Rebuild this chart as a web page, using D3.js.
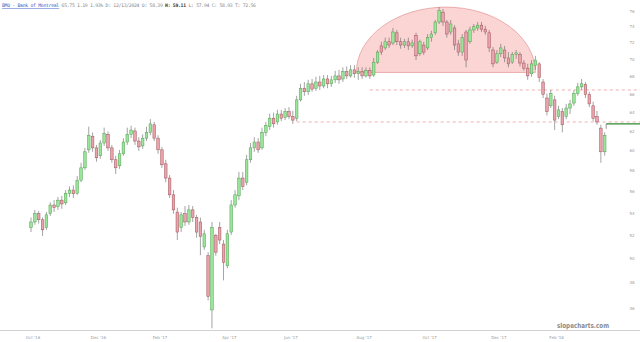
<!DOCTYPE html>
<html>
<head>
<meta charset="utf-8">
<script src="https://cdn.jsdelivr.net/npm/d3@7"></script>
<style>
  body { margin: 0; background: #fff; }
  svg { display: block; }
</style>
</head>
<body>
<div id="chart"></div>
<script>
// DATA
const opens = [
  52.7, 53.2, 53.95, 53.4, 52.7, 53.95, 54.75, 54.6, 55.2, 54.95,
  55.85, 56.15, 55.85, 57.1, 58.3, 60.1, 61.5, 60.3, 59.5, 60.8,
  61.7, 60.3, 59.1, 58.5, 59.7, 60.9, 61.7, 62.05, 61.0, 60.5,
  61.3, 61.9, 62.7, 61.3, 60.1, 58.7, 57.3, 55.7, 54.1, 52.7,
  53.95, 53.2, 54.3, 53.6, 53.2, 51.0, 50.25, 45.85, 52.0, 52.7,
  51.25, 49.4, 52.3, 54.75, 55.6, 57.3, 56.9, 59.1, 60.3, 60.9,
  60.3, 61.9, 62.5, 63.4, 63.0, 63.85, 63.5, 64.1, 63.6, 63.4,
  65.4, 66.7, 66.3, 67.2, 66.7, 67.4, 66.95, 67.75, 67.2, 67.65,
  68.1, 67.75, 68.6, 68.1, 68.8, 68.35, 68.6, 68.1, 68.7, 68.2,
  69.7, 71.65, 71.4, 72.15, 72.0, 73.25, 72.15, 71.75, 72.15, 71.65,
  72.9, 70.7, 71.75, 71.4, 72.65, 73.25, 74.6, 75.85, 74.6, 73.35,
  73.85, 71.9, 70.9, 73.35, 72.15, 73.6, 73.85, 74.2, 73.7, 73.25,
  71.15, 69.7, 70.7, 71.15, 70.2, 69.7, 70.6, 70.6, 69.6, 69.0,
  68.35, 69.3, 69.5, 67.4, 65.6, 64.75, 65.4, 63.6, 64.1, 63.6,
  64.5, 65.05, 66.1, 66.85, 67.1, 66.0, 64.75, 63.6, 62.35, 59.9
];
const closes = [
  53.2, 53.95, 53.4, 52.5, 53.85, 54.75, 54.5, 55.2, 54.85, 55.85,
  56.15, 55.8, 57.1, 58.3, 59.9, 61.6, 60.3, 59.3, 60.8, 61.8,
  60.3, 59.1, 58.3, 59.7, 60.9, 61.7, 62.15, 61.0, 60.4, 61.3,
  61.9, 62.8, 61.3, 60.1, 58.6, 57.3, 55.7, 54.3, 52.3, 53.85,
  53.2, 54.3, 53.6, 52.3, 51.9, 52.15, 46.9, 52.7, 50.55, 51.6,
  49.7, 52.15, 54.75, 55.7, 57.3, 56.5, 59.1, 60.3, 60.9, 60.1,
  61.9, 62.6, 63.4, 62.8, 63.85, 63.4, 64.1, 63.6, 63.2, 65.4,
  66.7, 66.3, 67.2, 66.6, 67.4, 66.95, 67.75, 67.2, 67.65, 68.1,
  67.65, 68.6, 68.1, 68.8, 68.35, 68.6, 68.1, 68.7, 68.1, 69.7,
  70.9, 70.9, 72.15, 71.75, 73.35, 72.15, 71.75, 72.15, 71.65, 72.0,
  70.45, 72.15, 70.9, 72.65, 73.1, 74.6, 76.1, 74.6, 73.1, 74.35,
  71.75, 70.9, 72.65, 69.95, 73.6, 74.0, 74.2, 73.7, 73.35, 71.4,
  69.5, 70.7, 71.4, 70.2, 69.5, 70.6, 70.8, 69.6, 69.0, 68.1,
  69.5, 69.95, 67.9, 66.0, 64.1, 66.1, 63.2, 64.3, 62.7, 64.5,
  64.95, 66.1, 66.85, 67.2, 66.0, 64.95, 63.4, 63.0, 59.9, 61.6
];
const highs = [
  53.6, 54.3, 54.2, 53.6, 54.1, 55.0, 55.2, 55.5, 55.6, 56.15,
  56.5, 56.6, 57.5, 58.8, 60.3, 62.5, 61.9, 60.6, 61.1, 62.4,
  62.0, 60.6, 59.5, 60.1, 61.3, 62.4, 62.6, 62.4, 61.4, 61.7,
  62.5, 63.3, 63.0, 61.6, 60.4, 59.1, 57.6, 56.15, 54.5, 54.1,
  54.65, 54.75, 54.65, 53.85, 53.6, 52.5, 50.55, 53.2, 52.15, 53.2,
  51.6, 52.5, 55.2, 56.15, 57.9, 57.9, 59.6, 60.8, 61.4, 61.3,
  62.4, 63.0, 63.9, 64.0, 64.3, 64.3, 64.5, 64.6, 64.2, 65.85,
  67.2, 67.4, 67.65, 67.75, 68.0, 68.1, 68.2, 68.2, 68.1, 68.7,
  68.8, 69.1, 69.2, 69.35, 69.35, 69.1, 69.1, 69.1, 69.1, 70.2,
  71.15, 72.15, 72.65, 72.65, 73.85, 73.6, 72.65, 72.5, 72.65, 72.4,
  73.25, 72.4, 72.15, 73.1, 73.5, 74.85, 76.5, 76.25, 74.85, 74.85,
  74.2, 72.4, 73.1, 73.6, 74.0, 74.35, 74.6, 74.6, 74.1, 73.6,
  71.5, 71.15, 71.9, 71.65, 70.9, 70.9, 71.15, 70.9, 69.95, 69.5,
  69.95, 70.45, 69.7, 67.75, 66.1, 66.5, 65.85, 64.75, 64.5, 64.95,
  65.4, 66.5, 67.3, 67.75, 67.4, 66.3, 65.2, 64.2, 62.7, 61.9
];
const lows = [
  52.3, 52.95, 53.05, 51.95, 52.5, 53.75, 54.1, 54.3, 54.4, 54.75,
  55.5, 55.4, 55.7, 56.9, 58.1, 59.8, 59.9, 58.9, 59.2, 60.5,
  60.0, 58.8, 57.7, 58.2, 59.5, 60.6, 61.3, 60.6, 60.0, 60.2,
  61.0, 61.6, 61.0, 59.7, 58.3, 56.9, 55.4, 53.95, 51.6, 52.3,
  52.85, 52.95, 53.2, 51.8, 50.3, 50.75, 46.6, 44.45, 50.25, 51.25,
  48.2, 49.2, 52.05, 54.5, 55.2, 56.15, 56.6, 58.8, 59.9, 59.8,
  60.1, 61.5, 62.15, 62.4, 62.7, 63.1, 63.2, 63.3, 62.8, 63.1,
  65.2, 65.85, 65.95, 66.3, 66.4, 66.5, 66.7, 66.7, 66.85, 67.3,
  67.2, 67.4, 67.75, 67.9, 67.9, 67.65, 67.75, 67.9, 67.75, 68.0,
  69.5, 70.55, 71.15, 71.4, 71.75, 71.75, 71.3, 71.4, 71.15, 71.4,
  69.95, 70.45, 70.55, 71.15, 72.15, 73.0, 74.35, 74.1, 72.65, 73.0,
  71.15, 70.45, 70.45, 69.1, 71.9, 73.25, 73.5, 73.35, 73.0, 70.9,
  69.1, 69.5, 70.3, 69.7, 69.1, 69.5, 70.1, 69.2, 68.7, 67.65,
  68.0, 68.8, 67.4, 65.6, 63.7, 64.5, 62.15, 63.3, 61.9, 63.3,
  63.85, 64.75, 65.85, 66.5, 65.6, 64.6, 63.1, 62.7, 58.8, 59.5
];

const yTicks = [46, 48, 50, 52, 54, 56, 58, 60, 62, 64, 66, 68, 70, 72, 74, 76];
const monthLabels = ["Oct '16", "Dec '16", "Feb '17", "Apr '17", "Jun '17", "Aug '17", "Oct '17", "Dec '17", "Feb '18"];
const monthIndex = [0, 17, 33, 51, 67, 86, 103, 121, 136];

// annotations: rounded top, support levels, last price line
const domeFrom = 84.5, domeTo = 131, domeBase = 68.5, domeTop = 76.5;
const levelPrices = [66.5, 63.0];
const levelFrom = [88, 69];
const lastPrice = 62.8;

const headerTitle = "BMO - Bank of Montreal";
const headerInfo = " 65.75 1.19 1.93% D: 12/13/2024 O: 58.39 ";
const headerBold = "H: 59.11";
const headerRest = " L: 57.94 C: 58.93 T: 72.56";

const WIDTH = 640, HEIGHT = 342;

const x = d3.scaleLinear().domain([0, closes.length - 1]).range([31, 604.7]);
const y = d3.scaleLog().domain([46, 76]).range([308, 11]);

const svg = d3.select("#chart").append("svg")
  .attr("width", WIDTH)
  .attr("height", HEIGHT);

// HEADER
const header = svg.append("text")
  .attr("x", 2)
  .attr("y", 7)
  .attr("font-family", "DejaVu Sans Mono")
  .attr("font-size", 4.8)
  .attr("fill", "#888")
  .attr("textLength", 254)
  .attr("lengthAdjust", "spacing");
header.append("tspan").attr("fill", "#4060c8").attr("text-decoration", "underline").text(headerTitle);
header.append("tspan").text(headerInfo);
header.append("tspan").attr("fill", "#333").attr("font-weight", "bold").text(headerBold);
header.append("tspan").text(headerRest);

// ROUNDED TOP
const dx0 = x(domeFrom), dx1 = x(domeTo);
const rx = (dx1 - dx0) / 2;
const baseY = y(domeBase);
const ry = baseY - y(domeTop);
svg.append("path")
  .attr("d", `M${dx0},${baseY} A${rx},${ry} 0 0 1 ${dx1},${baseY} Z`)
  .attr("fill", "#fbd4d4")
  .attr("stroke", "#e49494")
  .attr("stroke-width", 0.7);

// SUPPORT LEVELS
svg.selectAll(".level")
  .data(levelPrices)
  .enter()
  .append("line")
  .attr("class", "level")
  .attr("x1", (d, i) => x(levelFrom[i]))
  .attr("x2", WIDTH)
  .attr("y1", d => y(d))
  .attr("y2", d => y(d))
  .attr("stroke", "#ee9a9a")
  .attr("stroke-width", 0.8)
  .attr("stroke-dasharray", "3,3");

// BOTTOM AXIS LINE + LABELS
svg.append("line")
  .attr("x1", 0).attr("x2", WIDTH)
  .attr("y1", 330.5).attr("y2", 330.5)
  .attr("stroke", "#d0d0d0")
  .attr("stroke-width", 1);

svg.selectAll(".xlab")
  .data(monthLabels)
  .enter()
  .append("text")
  .attr("class", "xlab")
  .attr("x", (d, i) => x(monthIndex[i]) + 2)
  .attr("y", 339)
  .attr("text-anchor", "middle")
  .attr("font-family", "DejaVu Sans")
  .attr("font-size", 4)
  .attr("fill", "#999")
  .text(d => d);

// RIGHT AXIS LABELS
svg.selectAll(".ylab")
  .data(yTicks)
  .enter()
  .append("text")
  .attr("class", "ylab")
  .attr("x", 632)
  .attr("y", d => y(d) + 1.5)
  .attr("text-anchor", "middle")
  .attr("font-family", "DejaVu Sans")
  .attr("font-size", 4)
  .attr("fill", "#999")
  .text(d => d);

// CANDLES
const idx = d3.range(closes.length);
const bodyW = 2.6;

svg.selectAll(".wick")
  .data(idx)
  .enter()
  .append("line")
  .attr("class", "wick")
  .attr("x1", i => x(i)).attr("x2", i => x(i))
  .attr("y1", i => y(highs[i]))
  .attr("y2", i => y(lows[i]))
  .attr("stroke", "#666")
  .attr("stroke-width", 0.6);

svg.selectAll(".body")
  .data(idx)
  .enter()
  .append("rect")
  .attr("class", "body")
  .attr("x", i => x(i) - bodyW / 2)
  .attr("width", bodyW)
  .attr("y", i => y(Math.max(opens[i], closes[i])))
  .attr("height", i => Math.max(0.8, Math.abs(y(opens[i]) - y(closes[i]))))
  .attr("fill", i => closes[i] >= opens[i] ? "#9be59b" : "#e8a4aa")
  .attr("stroke", i => closes[i] >= opens[i] ? "#4f9f4f" : "#a0525c")
  .attr("stroke-width", 0.5);

// LAST PRICE LINE
const lastX = x(closes.length - 1) + 1.5;
svg.append("line")
  .attr("x1", lastX).attr("x2", WIDTH)
  .attr("y1", y(lastPrice)).attr("y2", y(lastPrice))
  .attr("stroke", "#2f8a2f")
  .attr("stroke-width", 1.2);
svg.append("line")
  .attr("x1", lastX).attr("x2", lastX)
  .attr("y1", y(lastPrice)).attr("y2", y(lastPrice) + 5)
  .attr("stroke", "#555")
  .attr("stroke-width", 0.6);

// WATERMARK
svg.append("text")
  .attr("x", 557)
  .attr("y", 328)
  .attr("font-family", "DejaVu Sans")
  .attr("font-weight", "bold")
  .attr("font-size", 7)
  .attr("fill", "#8a8a8a")
  .attr("textLength", 52)
  .attr("lengthAdjust", "spacingAndGlyphs")
  .text("slopecharts.com");
</script>
</body>
</html>
